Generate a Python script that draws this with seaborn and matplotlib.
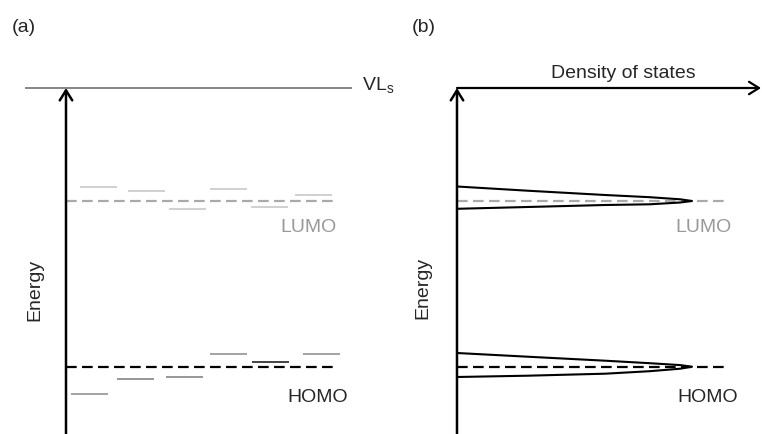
import numpy as np
import pandas as pd
import matplotlib
matplotlib.use("Agg")
import matplotlib.pyplot as plt
import seaborn as sns

sns.set_style("white")
plt.rcParams["font.family"] = ["Liberation Sans", "DejaVu Sans"]

# Energies relative to the vacuum level (arbitrary units)
E_VL = 0.0
E_LUMO = -1.13
E_HOMO = -2.787

# Individual molecular sites: position along the film and local level energy
lumo_site_pos = [0.985, 1.465, 1.875, 2.285, 2.695, 3.135]
lumo_site_E = [-0.99, -1.03, -1.207, -1.01, -1.19, -1.07]
homo_site_pos = [0.895, 1.355, 1.845, 2.285, 2.705, 3.215]
homo_site_E = [-3.057, -2.91, -2.887, -2.663, -2.743, -2.663]
homo_site_colors = ["#8a8a8a", "#7a7a7a", "#7a7a7a", "#8a8a8a", "#111111", "#8a8a8a"]

# Density-of-states profiles (normalised DOS vs energy offset from level)
dos_frac = [0.0, 0.3, 0.63, 0.82, 0.95, 1.0]
lumo_upper = [0.145, 0.103, 0.060, 0.038, 0.017, 0.0]
lumo_lower = [-0.078, -0.060, -0.040, -0.033, -0.015, 0.0]
homo_upper = [0.137, 0.100, 0.060, 0.035, 0.016, 0.0]
homo_lower = [-0.103, -0.090, -0.070, -0.045, -0.020, 0.0]

fig = plt.figure(figsize=(7.62, 4.34), dpi=100)
ax_a = fig.add_axes([0, 0, 0.5, 1])
ax_b = fig.add_axes([0.5, 0, 0.5, 1])
y_lim = (-3.46, 0.88)
ax_a.set_xlim(0, 3.81)
ax_a.set_ylim(*y_lim)
ax_b.set_xlim(-0.3234, 1.2979)
ax_b.set_ylim(*y_lim)
for ax in (ax_a, ax_b):
    ax.axis("off")

fs = 14
dash = (0, (4.8, 2.4))
arrow_kw = dict(arrowstyle="->,head_length=0.45,head_width=0.28", lw=1.8,
                color="black", shrinkA=0, shrinkB=0, mutation_scale=16)

# ---------------- panel (a): site energy levels ----------------
ax_a.text(0.12, 0.60, "(a)", fontsize=fs, va="center", ha="left")
ax_a.hlines(E_VL, 0.25, 3.52, color="#666666", lw=1.1)
ax_a.text(3.62, E_VL - 0.03, r"VL$_\mathregular{s}$", fontsize=fs, va="baseline", ha="left")
ax_a.annotate("", xy=(0.66, E_VL), xytext=(0.66, y_lim[0] - 0.1), arrowprops=arrow_kw)
ax_a.text(0.35, -2.02, "Energy", fontsize=fs, rotation=90, va="center", ha="center")

ax_a.plot([0.66, 3.35], [E_LUMO, E_LUMO], color="#aaaaaa", lw=1.6, linestyle=dash)
for x, e in zip(lumo_site_pos, lumo_site_E):
    ax_a.hlines(e, x - 0.185, x + 0.185, color="#c4c4c4", lw=1.1)
ax_a.text(2.80, -1.44, "LUMO", fontsize=fs, color="#999999", va="baseline", ha="left")

ax_a.plot([0.66, 3.35], [E_HOMO, E_HOMO], color="black", lw=1.6, linestyle=dash)
for x, e, c in zip(homo_site_pos, homo_site_E, homo_site_colors):
    ax_a.hlines(e, x - 0.185, x + 0.185, color=c, lw=1.1)
ax_a.text(2.87, -3.143, "HOMO", fontsize=fs, va="baseline", ha="left")

# ---------------- panel (b): density of states ----------------
ax_b.text(-0.1915, 0.60, "(b)", fontsize=fs, va="center", ha="left")
ax_b.annotate("", xy=(0.0, E_VL), xytext=(0.0, y_lim[0] - 0.1), arrowprops=arrow_kw)
ax_b.annotate("", xy=(1.294, E_VL), xytext=(0.0, E_VL),
              arrowprops=dict(arrow_kw, lw=1.6))
ax_b.text(0.708, 0.10, "Density of states", fontsize=fs, va="baseline", ha="center")
ax_b.text(-0.145, -2.0, "Energy", fontsize=fs, rotation=90, va="center", ha="center")

ax_b.plot([0.0, 1.14], [E_LUMO, E_LUMO], color="#aaaaaa", lw=1.6, linestyle=dash)
ax_b.plot([0.0, 1.14], [E_HOMO, E_HOMO], color="black", lw=1.6, linestyle=dash)

rows = []
for name, center, up, lo in (("LUMO", E_LUMO, lumo_upper, lumo_lower),
                             ("HOMO", E_HOMO, homo_upper, homo_lower)):
    pts = list(zip(dos_frac, up)) + list(zip(dos_frac[::-1][1:], lo[::-1][1:]))
    for i, (f, d) in enumerate(pts):
        rows.append({"level": name, "order": i, "dos": f, "energy": center + d})
dos_df = pd.DataFrame(rows)
sns.lineplot(data=dos_df, x="dos", y="energy", units="level", estimator=None,
             sort=False, color="black", lw=1.5, ax=ax_b, legend=False)
ax_b.set_xlim(-0.3234, 1.2979)
ax_b.set_ylim(*y_lim)
ax_b.axis("off")

ax_b.text(0.928, -1.44, "LUMO", fontsize=fs, color="#999999", va="baseline", ha="left")
ax_b.text(0.936, -3.143, "HOMO", fontsize=fs, va="baseline", ha="left")

fig.savefig("out.png", dpi=100)
